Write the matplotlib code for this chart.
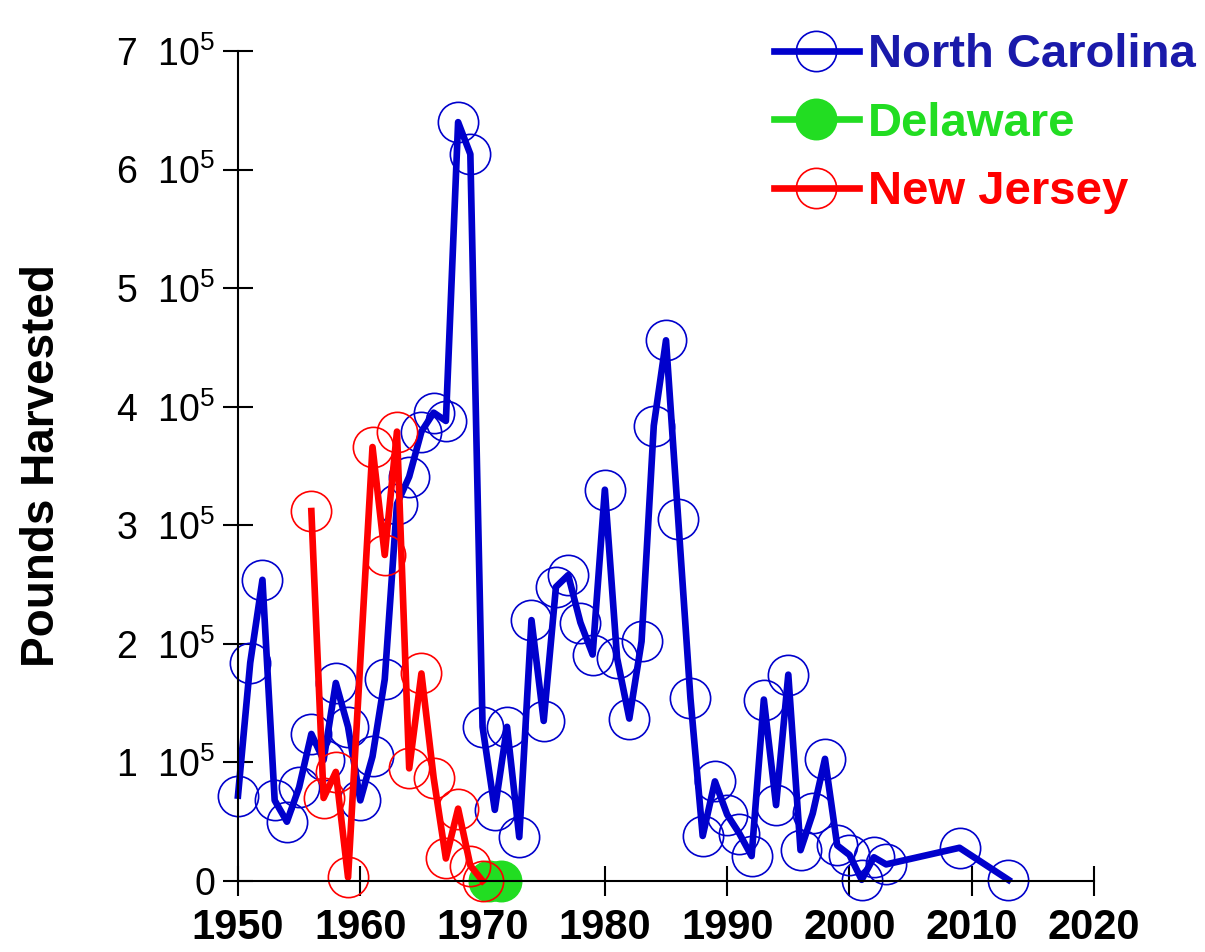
import matplotlib.pyplot as plt
from matplotlib.transforms import ScaledTranslation
import numpy as np

plt.rcParams['font.family'] = ['Liberation Sans', 'DejaVu Sans']
plt.rcParams['mathtext.fontset'] = 'custom'
plt.rcParams['mathtext.rm'] = 'Liberation Sans'

# North Carolina harvest (pounds, x 1e5)
nc_years = [1950, 1951, 1952, 1953, 1954, 1955, 1956, 1957, 1958, 1959,
            1960, 1961, 1962, 1963, 1964, 1965, 1966, 1967, 1968, 1969,
            1970, 1971, 1972, 1973, 1974, 1975, 1976, 1977, 1978, 1979,
            1980, 1981, 1982, 1983, 1984, 1985, 1986, 1987, 1988, 1989,
            1990, 1991, 1992, 1993, 1994, 1995, 1996, 1997, 1998, 1999,
            2000, 2001, 2002, 2003, 2009, 2013]
nc_vals = [0.72, 1.84, 2.54, 0.68, 0.50, 0.79, 1.24, 1.02, 1.67, 1.30,
           0.68, 1.05, 1.70, 3.18, 3.41, 3.79, 3.95, 3.88, 6.40, 6.13,
           1.30, 0.60, 1.30, 0.37, 2.20, 1.35, 2.48, 2.58, 2.18, 1.91,
           3.30, 1.88, 1.37, 2.02, 3.84, 4.56, 3.05, 1.54, 0.38, 0.84,
           0.56, 0.40, 0.21, 1.53, 0.64, 1.74, 0.26, 0.57, 1.03, 0.30,
           0.22, 0.01, 0.20, 0.14, 0.28, 0.01]

# Delaware
de_years = [1970.5, 1971.5]
de_vals = [0.0, 0.0]

# New Jersey
nj_years = [1956, 1957, 1958, 1959, 1961, 1962, 1963, 1964, 1965, 1966,
            1967, 1968, 1969, 1970]
nj_vals = [3.12, 0.70, 0.92, 0.03, 3.66, 2.75, 3.79, 0.95, 1.75, 0.87,
           0.19, 0.61, 0.13, 0.0]

blue = '#0000cc'
green = '#22dd22'
red = '#ff0000'

fig = plt.figure(figsize=(12.05, 9.52), dpi=100)
ax = fig.add_axes([0.1975, 0.0746, 0.7104, 0.8718])

ax.plot(nc_years, np.array(nc_vals) * 1e5, color=blue, lw=4.8, marker='o',
        ms=29, mfc='none', mec=blue, mew=1.2, clip_on=False,
        label='North Carolina')
ax.plot(de_years, np.array(de_vals) * 1e5, color=green, lw=4.8, marker='o',
        ms=29, mfc=green, mec=green, mew=1.2, clip_on=False, label='Delaware')
ax.plot(nj_years, np.array(nj_vals) * 1e5, color=red, lw=4.8, marker='o',
        ms=29, mfc='none', mec=red, mew=1.2, clip_on=False, label='New Jersey')

ax.set_xlim(1950, 2020)
ax.set_ylim(0, 7e5)
ax.set_xticks(range(1950, 2021, 10))
ax.set_xticklabels([str(y) for y in range(1950, 2021, 10)],
                   fontsize=30, fontweight='bold')
yt = np.arange(0, 8) * 1e5
ax.set_yticks(yt)
ax.set_yticklabels(['0'] + ['%d  10$^{5}$' % i for i in range(1, 8)],
                   fontsize=27)
for lab in ax.get_yticklabels()[1:]:
    lab.set_transform(lab.get_transform() + ScaledTranslation(0, 5 / 72, fig.dpi_scale_trans))

for s in ['top', 'right']:
    ax.spines[s].set_visible(False)
for s in ['left', 'bottom']:
    ax.spines[s].set_linewidth(1.5)
ax.tick_params(direction='inout', length=21, width=1.5, pad=6)
ax.tick_params(axis='x', pad=9)

ax.set_ylabel('Pounds Harvested', fontsize=33, fontweight='bold')
ax.yaxis.set_label_coords(-0.203, 0.5)

leg = ax.legend(loc='upper right', bbox_to_anchor=(1.016, 0.995),
                bbox_transform=fig.transFigure, frameon=False,
                prop={'size': 34, 'weight': 'bold'}, handlelength=1.8,
                handletextpad=0.2, labelspacing=0.52, borderaxespad=0.2,
                labelcolor=['#1a1aaa', green, red])

fig.savefig('out.png', dpi=100)
